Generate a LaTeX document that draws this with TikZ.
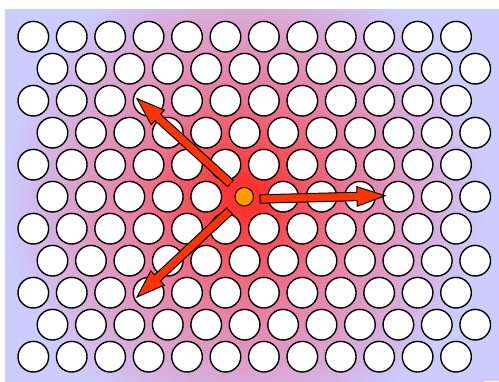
\documentclass[tikz,border=0pt]{standalone}
\usetikzlibrary{calc}
\definecolor{bgin}{RGB}{255,50,45}
\definecolor{bgmid}{RGB}{232,128,165}
\definecolor{bgout}{RGB}{204,204,255}
\definecolor{arrowred}{RGB}{255,51,0}
\definecolor{atomorange}{RGB}{255,153,0}
\pgfdeclareradialshading{bgglow}{\pgfpoint{0bp}{0bp}}{color(0bp)=(bgin); color(1.5bp)=(bgin); color(12bp)=(bgmid); color(25bp)=(bgout); color(50bp)=(bgout)}
\newcommand\blockarrow[4]{%
  \pgfmathsetmacro\baang{atan2(-(#4-#2),#3-#1)}%
  \pgfmathsetmacro\balen{veclen(#3-#1,#4-#2)}%
  \begin{scope}[shift={(#1,#2)},rotate=\baang]
    \draw[arrowbody] (0,-4.2) -- (\balen-28,-4.2) -- (\balen-28,-9.8) -- (\balen,0)
      -- (\balen-28,9.8) -- (\balen-28,4.2) -- (0,4.2) -- cycle;
  \end{scope}}
\begin{document}
\begin{tikzpicture}[x=1pt,y=-1pt,
  atom/.style={circle,draw=black,fill=white,line width=1.4pt,minimum size=30.6pt,inner sep=0pt},
  smallatom/.style={circle,draw=black,fill=atomorange,line width=1pt,minimum size=18.5pt,inner sep=0pt},
  arrowbody/.style={draw=black,fill=arrowred,line width=1pt,line join=miter}]
\useasboundingbox (0,0) rectangle (499,381);
\begin{scope}
  \clip (5,9) rectangle (499,381);
  \fill[bgout] (5,9) rectangle (499,381);
  \shade[shading=bgglow] (4.2,-43.3) rectangle (484.2,436.7);
\end{scope}
\foreach \r in {0,...,10}{
  \foreach \c in {0,...,11}{
    \pgfmathsetmacro\xx{33.3+38.43*\c+19.2*mod(\r,2)}
    \pgfmathsetmacro\yy{36.7+32*\r}
    \ifnum\r=5 \ifnum\c=5 \else
      \node[atom] (a-\r-\c) at (\xx,\yy) {};
    \fi\else
      \node[atom] (a-\r-\c) at (\xx,\yy) {};
    \fi
  }
}
\node[smallatom] (o) at (244.2,196.7) {};
\blockarrow{230.5}{183.5}{136.7}{98.3}
\blockarrow{229.5}{211}{136.7}{297.3}
\blockarrow{260}{199}{385}{195.7}
\end{tikzpicture}
\end{document}
